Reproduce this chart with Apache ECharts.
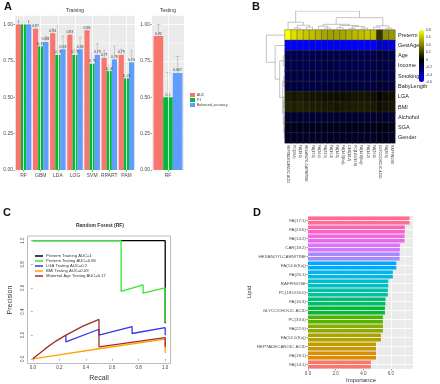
<!DOCTYPE html>
<html>
<head>
<meta charset="utf-8">
<script src="https://cdn.jsdelivr.net/npm/echarts@6/dist/echarts.min.js"></script>
<style>
  html, body { margin: 0; padding: 0; background: #fff; }
  #main { width: 440px; height: 384px; }
</style>
</head>
<body>
<div id="main"></div>
<script>
// ---------- A: model performance (training / testing)
const models = ['RF', 'GBM', 'LDA', 'LOG', 'SVM', 'RPART', 'PAM']
const aucTrain = [1, 0.97, 0.94, 0.93, 0.96, 0.77, 0.79]
const f1Train = [1, 0.85, 0.79, 0.79, 0.73, 0.68, 0.63]
const baTrain = [1, 0.88, 0.83, 0.83, 0.79, 0.76, 0.74]
const aucTrainUp = [1, 1, 0.97, 0.96, 0.98, 0.82, 0.83]
const f1TrainUp = [1, 0.91, 0.99, 0.83, 0.8, 0.72, 0.73]
const baTrainUp = [1, 0.92, 0.92, 0.91, 0.87, 0.85, 0.82]
const testModels = ['RF']
const aucTest = [0.92]
const f1Test = [0.5]
const baTest = [0.667]
const aucTestUp = [1]
const f1TestUp = [0.67]
const baTestUp = [0.78]

// ---------- B: correlation heatmap
const lipidCols = ['HEPTADECANOIC ACID', 'PC(33:4)', 'FA(19:1)', 'HEXANOYLCARNITINE', 'FA(17:1)', 'FA(24:6)',
  'FA(22:5)', 'FA(16:3)', 'FA(14:1)', 'FA(14:1(Ka))', 'CAR(18:2)', 'PC(18:0/16:0)', 'FA(14:0(Ka))',
  'FA(14:2)', 'FA(26:1)', 'GLYCOCHOLIC ACID', 'FA(20:1)', 'RAFFINOSE']
const traits = ['Preterm', 'GestAge', 'Age', 'Income', 'Smoking', 'BabyLength', 'LGA', 'BMI', 'Alchohol', 'SGA', 'Gender']
const corPreterm = [0.8, 0.7, 0.66, 0.62, 0.6, 0.57, 0.52, 0.5, 0.5, 0.52, 0.55, 0.58, 0.6, 0.62, 0.6, 0.15, 0.45, 0.47]
const corGestAge = [-0.62, -0.6, -0.6, -0.6, -0.58, -0.6, -0.58, -0.58, -0.57, -0.58, -0.6, -0.6, -0.6, -0.6, -0.6, -0.45, -0.5, -0.52]
const corAge = [-0.19, -0.18, -0.19, -0.18, -0.19, -0.18, -0.17, -0.18, -0.18, -0.17, -0.18, -0.19, -0.18, -0.19, -0.18, -0.15, -0.16, -0.17]
const corIncome = [-0.18, -0.19, -0.18, -0.18, -0.19, -0.18, -0.18, -0.17, -0.18, -0.18, -0.19, -0.18, -0.19, -0.18, -0.18, -0.15, -0.17, -0.17]
const corSmoking = [-0.17, -0.16, -0.17, -0.17, -0.16, -0.17, -0.16, -0.16, -0.17, -0.16, -0.17, -0.17, -0.16, -0.17, -0.17, -0.14, -0.15, -0.16]
const corBabyLength = [-0.15, -0.16, -0.15, -0.15, -0.16, -0.15, -0.14, -0.15, -0.15, -0.14, -0.15, -0.16, -0.15, -0.15, -0.16, -0.12, -0.13, -0.14]
const corLGA = [0.08, 0.07, 0.08, 0.07, 0.06, 0.06, 0.05, 0.05, 0.04, 0.04, 0.05, 0.06, 0.06, 0.06, 0.05, 0.02, 0.04, 0.04]
const corBMI = [0.11, 0.1, 0.11, 0.1, 0.09, 0.09, 0.08, 0.08, 0.07, 0.08, 0.08, 0.09, 0.09, 0.09, 0.08, 0.04, 0.06, 0.07]
const corAlchohol = [-0.12, -0.13, -0.12, -0.13, -0.13, -0.12, -0.12, -0.13, -0.13, -0.12, -0.12, -0.13, -0.13, -0.12, -0.12, -0.1, -0.11, -0.12]
const corSGA = [-0.06, -0.07, -0.06, -0.07, -0.07, -0.06, -0.07, -0.07, -0.06, -0.07, -0.07, -0.06, -0.07, -0.07, -0.06, -0.05, -0.06, -0.06]
const corGender = [-0.09, -0.09, -0.1, -0.09, -0.09, -0.1, -0.09, -0.09, -0.1, -0.09, -0.09, -0.1, -0.09, -0.09, -0.1, -0.07, -0.08, -0.09]
const corRows = [corPreterm, corGestAge, corAge, corIncome, corSmoking, corBabyLength, corLGA, corBMI, corAlchohol, corSGA, corGender]
const corTicks = [-0.6, 0.8]
// dendrograms: leaf = index, node = [left, right, height]
const colTree = [[0, [[1, 2, 1], [3, 4, 1.5], 2.5], 4.1],
  [[[5, [6, 7, 1], 2], [[8, 9, 1.2], [[10, 11, 0.8], [12, 13, 1], 1.8], 2.4], 3], [[14, 15, 1.5], [16, 17, 1], 2.2], 6.5], 10]
const rowTree = [0, [1, [[2, 3, 0.9], [[4, 5, 0.6], [[6, 7, 0.7], [8, [9, 10, 0.4], 0.6], 0.9], 1.2], 2.8], 5.2], 9.8]

// ---------- C: precision-recall curves
const prNames = ['Preterm Training AUC=1', 'Preterm Testing AUC=0.86', 'LGA Testing AUC=0.2', 'BMI Testing AUC=0.09', 'Maternal Age Testing AUC=0.17']
const prPretermTrain = [[0, 1], [1, 1], [1, 0.3]]
const prPretermTest = [[0, 1], [0.667, 1], [0.667, 0.571], [0.833, 0.625], [0.833, 0.556], [1, 0.6], [1, 0.31]]
const prLGA = [[0.25, 0.2], [0.25, 0.143], [0.5, 0.25], [0.5, 0.2], [0.75, 0.273], [0.75, 0.214], [1, 0.263], [1, 0.2]]
const prBMI = [[0, 0], [0.5, 0.085], [1, 0.167], [1, 0.05]]
const prAge = [[0, 0], [0.1, 0.09], [0.175, 0.15], [0.25, 0.2], [0.375, 0.275], [0.5, 0.333], [0.5, 0.1], [1, 0.18], [1, 0.1]]

// ---------- D: variable importance
const lipids = ['FA(17:1)', 'FA(24:6)', 'FA(14:2)', 'CAR(18:2)', 'HEXANOYLCARNITINE', 'FA(14:0(Ka))', 'FA(26:1)',
  'RAFFINOSE', 'PC(18:0/16:0)', 'FA(16:3)', 'GLYCOCHOLIC ACID', 'PC(33:4)', 'FA(22:5)', 'FA(14:1(Ka))',
  'HEPTADECANOIC ACID', 'FA(19:1)', 'FA(14:1)']
const importance = [7.35, 7.01, 6.99, 6.65, 6.63, 6.39, 6.14, 5.81, 5.78, 5.61, 5.57, 5.42, 5.42, 5.28, 4.92, 4.92, 4.55]
const lipidColors = ['#FF6C91', '#FF62BC', '#F066EA', '#D575FE', '#A58AFF', '#00A9FF', '#00B6EB',
  '#00BFC4', '#00C1A3', '#00BE70', '#00BA38', '#53B400', '#8AAB00', '#ABA300', '#C49A00', '#DE8C00', '#F8766D']

const FONT = 'Liberation Sans, Arial, sans-serif'
const chart = echarts.init(document.getElementById('main'))

// ggplot-like axis pieces
function ggValueAxis(idx, extra) {
  return Object.assign({
    type: 'value', gridIndex: idx,
    axisLine: { show: false },
    axisTick: { show: true, length: 1.5, lineStyle: { color: '#333', width: 0.5 } },
    axisLabel: { fontSize: 5, color: '#4d4d4d', margin: 2, fontFamily: FONT },
    splitLine: { show: true, lineStyle: { color: '#fff', width: 0.8 } },
    minorTick: { show: false, splitNumber: 2 },
    minorSplitLine: { show: true, lineStyle: { color: '#fff', width: 0.4 } }
  }, extra)
}
function ggCatAxis(idx, data, extra) {
  return Object.assign({
    type: 'category', gridIndex: idx, data,
    axisLine: { show: false },
    axisTick: { show: true, alignWithLabel: true, length: 1.5, lineStyle: { color: '#333', width: 0.5 } },
    axisLabel: { fontSize: 5, color: '#4d4d4d', margin: 3, interval: 0, fontFamily: FONT },
    splitLine: { show: false }
  }, extra)
}

function barSeries(name, data, color, axis) {
  return {
    type: 'bar', name, data, xAxisIndex: axis, yAxisIndex: axis,
    barGap: '0%', barCategoryGap: '10%', z: 2,
    itemStyle: { color },
    label: { show: true, position: 'top', distance: 0.5, fontSize: 3.5, color: '#333', fontFamily: FONT }
  }
}

function errSeries(vals, ups, offset, axis) {
  return {
    type: 'custom', xAxisIndex: axis, yAxisIndex: axis, z: 3, silent: true,
    data: vals.map((v, i) => [i, v, ups[i]]),
    renderItem(params, api) {
      const lo = api.coord([api.value(0), api.value(1)])
      const hi = api.coord([api.value(0), api.value(2)])
      const band = api.size([1, 0])[0]
      const x = lo[0] + offset * band
      const cap = band * 0.07
      const style = { stroke: '#a0a0a0', lineWidth: 0.5 }
      return {
        type: 'group',
        children: [
          { type: 'line', shape: { x1: x, y1: lo[1], x2: x, y2: hi[1] }, style },
          { type: 'line', shape: { x1: x - cap, y1: hi[1], x2: x + cap, y2: hi[1] }, style }
        ]
      }
    }
  }
}

// white gridlines through category centres
function catLines(axis, names, dir) {
  return {
    type: 'line', data: [], xAxisIndex: axis, yAxisIndex: axis, z: 1, silent: true,
    markLine: {
      silent: true, symbol: 'none', animation: false,
      label: { show: false },
      lineStyle: { color: '#fff', width: 0.8, type: 'solid' },
      data: names.map(n => ({ [dir]: n }))
    }
  }
}

function dendroSegments(tree, swap) {
  const out = []
  function walk(node) {
    if (typeof node === 'number') return { pos: node, h: 0 }
    const a = walk(node[0])
    const b = walk(node[1])
    const h = node[2]
    const pts = [[a.pos, a.h], [a.pos, h], [b.pos, h], [b.pos, b.h]]
    out.push({ coords: swap ? pts.map(p => [p[1], p[0]]) : pts })
    return { pos: (a.pos + b.pos) / 2, h }
  }
  walk(tree)
  return out
}

const heatData = []
corRows.forEach((row, r) => row.forEach((v, c) => heatData.push([c, r, v])))

const hidden = { show: false }
const grids = [
  { left: 15, top: 15, width: 120, height: 155, backgroundColor: '#EBEBEB' }, // 0 A train
  { left: 152, top: 15, width: 32, height: 155, backgroundColor: '#EBEBEB' }, // 1 A test
  { left: 285, top: 11, width: 110, height: 19 }, // 2 col dendrogram
  { left: 266, top: 30, width: 19, height: 113 }, // 3 row dendrogram
  { left: 285, top: 30, width: 110, height: 113 }, // 4 heatmap
  { left: 419, top: 30, width: 5, height: 52 }, // 5 colour bar labels
  { left: 27.5, top: 236, width: 143, height: 127.5, borderColor: '#aaa', borderWidth: 0.8 }, // 6 PR
  { left: 308, top: 216, width: 105, height: 153, backgroundColor: '#EBEBEB' } // 7 importance
].map(g => Object.assign({ show: true, borderWidth: 0, containLabel: false, outerBoundsMode: 'none' }, g))

const prTicks = [0, 0.2, 0.4, 0.6, 0.8, 1]
const prAxis = {
  min: -0.04, max: 1.04,
  axisLine: { show: false },
  splitLine: { show: false },
  axisTick: { show: true, length: 2, customValues: prTicks, lineStyle: { color: '#666', width: 0.5 } },
  axisLabel: { customValues: prTicks, fontSize: 4.5, color: '#444', margin: 2, fontFamily: FONT, formatter: v => v.toFixed(1) }
}

const xAxes = [
  ggCatAxis(0, models),
  ggCatAxis(1, testModels),
  { type: 'value', gridIndex: 2, min: -0.5, max: lipidCols.length - 0.5, show: false },
  { type: 'value', gridIndex: 3, min: 0, max: 10, inverse: true, show: false },
  {
    type: 'category', gridIndex: 4, data: lipidCols, position: 'bottom',
    axisLine: hidden, axisTick: hidden, splitLine: hidden,
    axisLabel: { rotate: -90, fontSize: 3.4, color: '#333', margin: 2, interval: 0, fontFamily: FONT }
  },
  { type: 'value', gridIndex: 5, show: false },
  Object.assign({ type: 'value', gridIndex: 6 }, prAxis),
  ggValueAxis(7, { min: 0, max: 7.6, interval: 2, axisLabel: { fontSize: 4.5, color: '#4d4d4d', margin: 2, fontFamily: FONT, showMaxLabel: false, formatter: v => v.toFixed(1) } })
]

const yAxes = [
  ggValueAxis(0, { min: 0, max: 1.065, interval: 0.25, axisLabel: { fontSize: 5, color: '#4d4d4d', margin: 2, fontFamily: FONT, showMaxLabel: false, formatter: v => v.toFixed(2) } }),
  ggValueAxis(1, { min: 0, max: 1.065, interval: 0.25, axisLabel: { fontSize: 5, color: '#4d4d4d', margin: 2, fontFamily: FONT, showMaxLabel: false, formatter: v => v.toFixed(2) } }),
  { type: 'value', gridIndex: 2, min: 0, max: 10, show: false },
  { type: 'value', gridIndex: 3, min: -0.5, max: traits.length - 0.5, inverse: true, show: false },
  {
    type: 'category', gridIndex: 4, data: traits, inverse: true, position: 'right',
    axisLine: hidden, axisTick: hidden, splitLine: hidden,
    axisLabel: { fontSize: 5.5, color: '#222', margin: 3, interval: 0, fontFamily: FONT }
  },
  {
    type: 'value', gridIndex: 5, min: corTicks[0], max: corTicks[1], interval: 0.2, position: 'right',
    axisLine: hidden, axisTick: hidden, splitLine: hidden,
    axisLabel: { fontSize: 3.4, color: '#333', margin: 2, fontFamily: FONT }
  },
  Object.assign({ type: 'value', gridIndex: 6 }, prAxis, { axisLabel: Object.assign({}, prAxis.axisLabel, { rotate: 90 }) }),
  ggCatAxis(7, lipids, { inverse: true, axisLabel: { fontSize: 4.4, color: '#4d4d4d', margin: 2, interval: 0, fontFamily: FONT } })
]

const AUC_C = '#F8766D', F1_C = '#00BA38', BA_C = '#619CFF'
const series = [
  catLines(0, models, 'xAxis'),
  barSeries('AUC', aucTrain, AUC_C, 0),
  barSeries('F1', f1Train, F1_C, 0),
  barSeries('Balanced_accuracy', baTrain, BA_C, 0),
  errSeries(aucTrain, aucTrainUp, -0.3, 0),
  errSeries(f1Train, f1TrainUp, 0, 0),
  errSeries(baTrain, baTrainUp, 0.3, 0),
  catLines(1, testModels, 'xAxis'),
  barSeries('AUC', aucTest, AUC_C, 1),
  barSeries('F1', f1Test, F1_C, 1),
  barSeries('Balanced_accuracy', baTest, BA_C, 1),
  errSeries(aucTest, aucTestUp, -0.3, 1),
  errSeries(f1Test, f1TestUp, 0, 1),
  errSeries(baTest, baTestUp, 0.3, 1),
  {
    type: 'lines', coordinateSystem: 'cartesian2d', xAxisIndex: 2, yAxisIndex: 2, polyline: true, silent: true,
    lineStyle: { color: '#9a9a9a', width: 0.6, opacity: 1 }, data: dendroSegments(colTree, false)
  },
  {
    type: 'lines', coordinateSystem: 'cartesian2d', xAxisIndex: 3, yAxisIndex: 3, polyline: true, silent: true,
    lineStyle: { color: '#9a9a9a', width: 0.6, opacity: 1 }, data: dendroSegments(rowTree, true)
  },
  {
    type: 'heatmap', xAxisIndex: 4, yAxisIndex: 4, data: heatData, silent: true,
    itemStyle: { borderColor: '#3c3c3c', borderWidth: 0.4 }
  }
]
const heatIndex = series.length - 1

const prColors = ['#000000', '#33E633', '#3535F0', '#FFA500', '#A52A2A']
const prData = [prPretermTrain, prPretermTest, prLGA, prBMI, prAge]
prData.forEach((d, i) => series.push({
  type: 'line', name: prNames[i], data: d, xAxisIndex: 6, yAxisIndex: 6,
  showSymbol: false, symbol: 'none', lineStyle: { color: prColors[i], width: 1.3 }, itemStyle: { color: prColors[i] }, z: 2 + i
}))

series.push(catLines(7, lipids, 'yAxis'))
series.push({
  type: 'bar', data: importance.map((v, i) => ({ value: v, itemStyle: { color: lipidColors[i] } })),
  xAxisIndex: 7, yAxisIndex: 7, barCategoryGap: '10%', z: 2
})

function txt(x, y, text, font, extra) {
  return Object.assign({
    type: 'text', x, y, silent: true,
    style: Object.assign({ text, font, fill: '#111', textAlign: 'center', textVerticalAlign: 'middle' }, extra || {})
  })
}
const panelFont = 'bold 11px ' + FONT
const graphic = [
  txt(8, 7, 'A', panelFont),
  txt(256, 7, 'B', panelFont),
  txt(7, 213, 'C', panelFont),
  txt(257, 213, 'D', panelFont),
  txt(75, 11, 'Training', '5px ' + FONT, { fill: '#333' }),
  txt(168, 11, 'Testing', '5px ' + FONT, { fill: '#333' }),
  txt(100, 226, 'Random Forest (RF)', 'bold 5px ' + FONT, { fill: '#333' }),
  Object.assign(txt(10, 300, 'Precision', '7px ' + FONT, { fill: '#333' }), { rotation: Math.PI / 2 }),
  txt(99, 378, 'Recall', '7px ' + FONT, { fill: '#333' }),
  Object.assign(txt(249, 292, 'Lipid', '6px ' + FONT, { fill: '#333' }), { rotation: Math.PI / 2 }),
  txt(361, 380, 'Importance', '6px ' + FONT, { fill: '#333' })
]

chart.setOption({
  animation: false,
  grid: grids,
  xAxis: xAxes,
  yAxis: yAxes,
  visualMap: {
    type: 'continuous', seriesIndex: heatIndex, min: corTicks[0], max: corTicks[1],
    left: 419, top: 30, itemWidth: 5, itemHeight: 52, padding: 0, calculable: false,
    text: null, showLabel: false, realtime: false,
    inRange: { color: ['#0000FF', '#0000AA', '#000055', '#000000', '#404000', '#808000', '#BFBF00', '#FFFF00'] }
  },
  legend: [
    {
      data: ['AUC', 'F1', 'Balanced_accuracy'], left: 190, top: 93, orient: 'vertical',
      itemWidth: 5, itemHeight: 4, itemGap: 1, icon: 'rect', padding: 0, selectedMode: false,
      textStyle: { fontSize: 3.5, color: '#333', fontFamily: FONT, padding: [0, 0, 0, -3] }
    },
    {
      data: prNames, left: 35, top: 254, orient: 'vertical',
      itemWidth: 8, itemHeight: 1.5, itemGap: 1, icon: 'rect', padding: 0, selectedMode: false,
      textStyle: { fontSize: 4.2, color: '#333', fontFamily: FONT, padding: [0, 0, 0, -2] }
    }
  ],
  graphic,
  series
})
</script>
</body>
</html>
